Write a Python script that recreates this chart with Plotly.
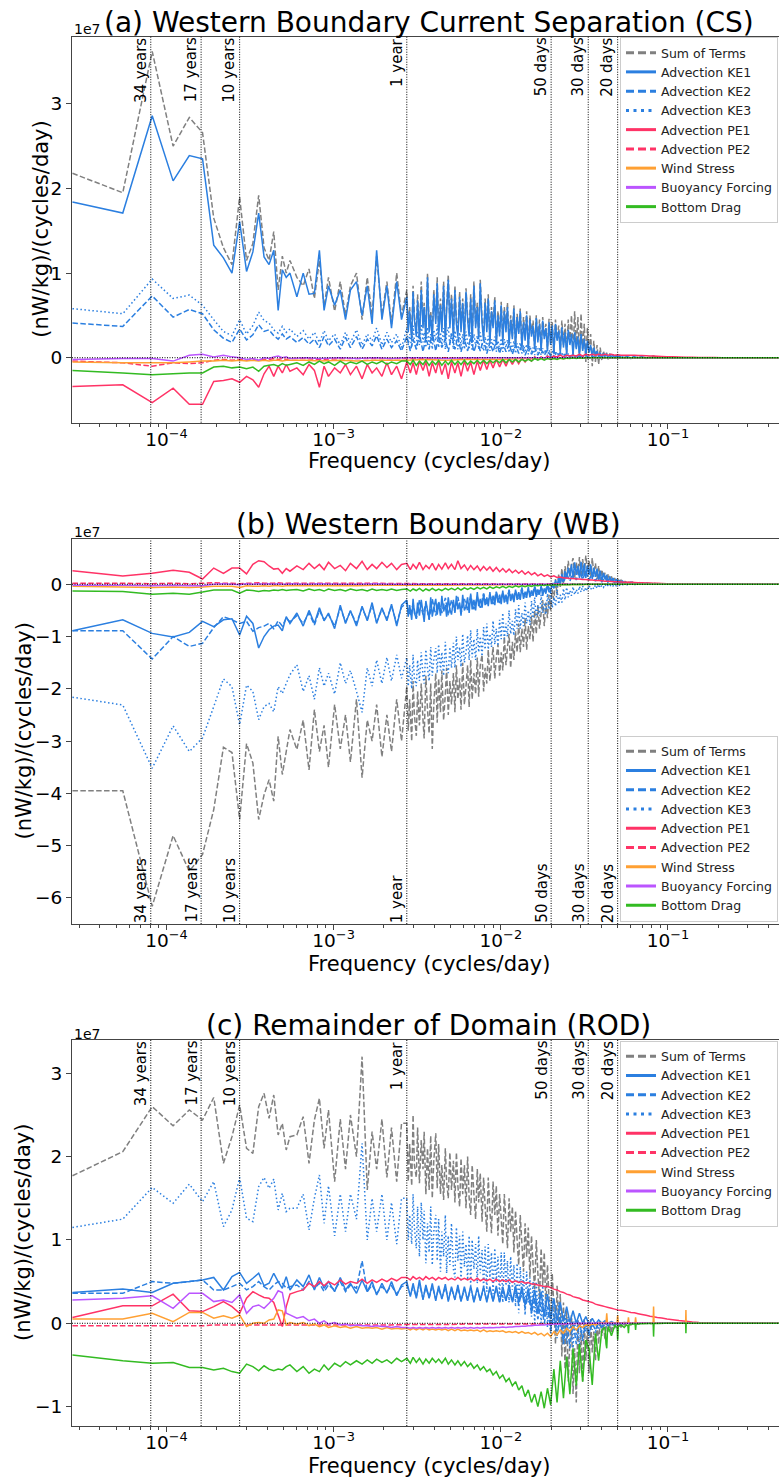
import math
import sys
import plotly.graph_objects as go

# ---------------- data ----------------
RECORD_DAYS = 36500.0  # 100-year record -> frequency = harmonic / RECORD_DAYS (cycles/day)

K = [1, 2, 3, 4, 5, 6, 7, 8, 9, 10, 11, 12, 13, 14, 15, 16, 17, 18, 19, 20,
     22, 24, 26, 28, 30, 32, 34, 37, 40, 43, 46, 50, 54, 58, 62, 66, 71, 76, 81, 87, 93,
     100, 105, 109, 114, 119, 125, 130, 136, 142, 149,
     155, 162, 170, 177, 185, 194, 202, 211, 221, 231,
     241, 252, 264, 275, 288, 301, 314, 328, 343, 359,
     375, 392, 409, 428, 447, 467, 488, 510, 533, 557,
     582, 608, 636, 664, 694, 725, 758, 792, 828, 865,
     904, 945, 987, 1032, 1078, 1127, 1177, 1230, 1286, 1344,
     1404, 1467, 1533, 1602, 1675, 1750, 1829, 1911, 1997,
     2090, 2190, 2300, 2420, 2550, 2700, 2850, 2990, 3150, 3350,
     3600, 3900, 4250, 4670, 5100, 5600, 6200, 6900, 7700, 8600,
     9600, 10800, 12200, 13800, 15600, 18000]

# denser harmonic list (100..1997) for the broadest noisy bands
K_DENSE_MID = [100, 102, 104, 107, 109, 111, 114, 116, 119, 122,
               125, 127, 130, 133, 136, 139, 142, 145, 149, 152,
               155, 159, 162, 166, 170, 173, 177, 181, 185, 190,
               194, 198, 202, 207, 211, 216, 221, 226, 231, 236,
               241, 246, 252, 258, 264, 269, 275, 282, 288, 294,
               301, 307, 314, 321, 328, 336, 343, 351, 359, 367,
               375, 383, 392, 400, 409, 418, 428, 437, 447, 457,
               467, 477, 488, 499, 510, 521, 533, 545, 557, 569,
               582, 595, 608, 622, 636, 650, 664, 679, 694, 709,
               725, 741, 758, 775, 792, 810, 828, 846, 865, 884,
               904, 924, 945, 966, 987, 1009, 1032, 1055, 1078, 1102,
               1127, 1152, 1177, 1203, 1230, 1258, 1286, 1314, 1344, 1374,
               1404, 1435, 1467, 1500, 1533, 1567, 1602, 1638, 1675, 1712,
               1750, 1789, 1829, 1869, 1911, 1953, 1997]
K_D = K[:41] + K_DENSE_MID + K[110:]

# harmonics for the series with narrow high-frequency spikes (panel c wind stress / bottom drag)
K_SPIKY = K[:103] + [1533, 1555, 1570, 1585, 1602, 1675, 1750, 1810, 1825, 1840,
                     1911, 1997, 2060, 2100, 2117, 2134, 2200, 2320, 2336, 2352,
                     2450, 2600, 2800, 2975, 2993, 3011, 3200, 3500, 3900, 4300,
                     4655, 4672, 4689, 5100, 5600, 6200, 6900, 7700, 8600, 9600,
                     10800, 12200, 13800, 15600, 18000]

K_S = [1, 2, 3, 4, 5, 6, 7, 8, 9, 10, 11, 12, 13, 14, 15, 16, 17, 18, 19, 20,
       25, 30, 40, 50, 65, 80, 100, 130, 170, 220, 290, 380, 500, 650, 850,
       1100, 1450, 1900, 2500, 3300, 4400, 6000, 8000, 11000, 18000]

# ---- panel (a): values in units of 1e7 (nW/kg)/(cycles/day)
a_sum = [2.18, 1.95, 3.62, 2.50, 2.84, 2.66, 1.65, 1.30, 1.10, 1.90, 1.15, 1.35, 1.92, 1.30, 1.15, 1.49, 0.80, 1.20, 1.00, 1.15,
         0.95, 0.85, 1.05, 0.70, 1.15, 0.60, 0.95, 0.55, 0.90, 0.50, 0.85, 1.00, 0.45, 0.95, 0.50, 1.20, 0.50, 0.90, 0.40, 1.00, 0.50,
         0.80, 0.35, 0.60, 0.25, 0.85, 0.50, 0.30, 0.75, 0.25, 0.90,
         0.40, 0.65, 0.25, 1.00, 0.35, 0.55, 0.25, 0.80, 0.45, 0.95,
         0.30, 0.70, 0.35, 0.90, 0.25, 0.60, 0.98, 0.40, 0.75, 0.28,
         0.85, 0.45, 0.30, 0.78, 0.35, 0.70, 0.25, 0.82, 0.50, 0.30,
         0.75, 0.22, 0.90, 0.40, 0.65, 0.25, 0.92, 0.45, 0.25, 0.70,
         0.35, 0.75, 0.20, 0.60, 0.40, 0.72, 0.18, 0.55, 0.30, 0.66,
         0.22, 0.60, 0.35, 0.65, 0.18, 0.50, 0.25, 0.62, 0.15, 0.52,
         0.30, 0.58, 0.15, 0.48, 0.25, 0.55, 0.12, 0.50, 0.28, 0.44,
         0.12, 0.50, 0.20, 0.45, 0.10, 0.48, 0.25, 0.40, 0.10, 0.46,
         0.18, 0.42, 0.05, 0.45, 0.22, 0.38, 0.08, 0.44, 0.15, 0.40,
         0.05, 0.45, 0.18, 0.50, 0.02, 0.55, 0.12, 0.48, 0.00, 0.52,
         0.10, 0.40, -0.05, 0.35, 0.05, 0.28, -0.10, 0.20, -0.05, 0.15,
         -0.08, 0.12, -0.03, 0.08, 0.00, 0.06, -0.02, 0.05, 0.00, 0.04,
         -0.01, 0.03, 0.00, 0.03, -0.01, 0.02, 0.00,
         0.02, -0.01, 0.02, 0.00, 0.01, -0.01, 0.01, 0.02, 0.00, 0.01,
         0.00, 0.005, 0, 0, 0, 0, 0, 0, 0, 0,
         0, 0, 0, 0, 0, 0]
a_ke1 = [1.84, 1.71, 2.86, 2.09, 2.39, 2.35, 1.33, 1.18, 1.00, 1.61, 1.02, 1.25, 1.71, 1.19, 1.10, 1.27, 0.56, 1.04, 0.95, 1.00,
         0.72, 1.00, 0.75, 0.76, 1.27, 0.56, 0.85, 0.62, 0.80, 0.45, 0.80, 0.90, 0.50, 0.85, 0.40, 1.27, 0.45, 0.85, 0.35, 0.90, 0.45,
         0.72, 0.30, 0.55, 0.20, 0.78, 0.45, 0.25, 0.68, 0.22, 0.80,
         0.35, 0.60, 0.22, 0.95, 0.30, 0.50, 0.20, 0.75, 0.40, 0.88,
         0.25, 0.62, 0.30, 0.85, 0.20, 0.55, 0.92, 0.35, 0.70, 0.22,
         0.80, 0.40, 0.25, 0.72, 0.30, 0.65, 0.20, 0.78, 0.45, 0.25,
         0.70, 0.18, 0.85, 0.35, 0.60, 0.22, 0.88, 0.40, 0.20, 0.65,
         0.30, 0.70, 0.18, 0.55, 0.35, 0.68, 0.15, 0.50, 0.25, 0.62,
         0.18, 0.55, 0.30, 0.60, 0.15, 0.45, 0.22, 0.58, 0.12, 0.48,
         0.28, 0.55, 0.12, 0.42, 0.20, 0.50, 0.10, 0.45, 0.25, 0.38,
         0.10, 0.47, 0.18, 0.40, 0.08, 0.44, 0.22, 0.35, 0.08, 0.42,
         0.15, 0.38, 0.05, 0.40, 0.20, 0.32, 0.06, 0.36, 0.12, 0.30,
         0.04, 0.33, 0.15, 0.28, 0.03, 0.30, 0.10, 0.25, 0.02, 0.28,
         0.08, 0.22, 0.02, 0.20, 0.06, 0.15, 0.01, 0.12, 0.04, 0.08,
         0.01, 0.06, 0.00, 0.05, 0.02, 0.04, 0.00, 0.03, 0.01, 0.03,
         0.00, 0.02, 0.01, 0.02, 0.00, 0.01, 0.00,
         0.01, 0, 0.01, 0, 0.01, 0, 0.005, 0, 0, 0,
         0, 0, 0, 0, 0, 0, 0, 0, 0, 0,
         0, 0, 0, 0, 0, 0]
a_ke2 = [0.41, 0.37, 0.73, 0.48, 0.57, 0.52, 0.33, 0.23, 0.18, 0.34, 0.21, 0.27, 0.39, 0.31, 0.33, 0.26, 0.22, 0.28, 0.22, 0.25,
         0.18, 0.24, 0.16, 0.22, 0.12, 0.25, 0.14, 0.22, 0.10, 0.24, 0.12, 0.25, 0.10, 0.22, 0.14, 0.26, 0.10, 0.22, 0.12, 0.20, 0.08,
         0.25, 0.08, 0.22, 0.10, 0.28, 0.07, 0.24, 0.10, 0.30, 0.08,
         0.26, 0.12, 0.22, 0.07, 0.28, 0.10, 0.25, 0.07, 0.22, 0.08,
         0.24, 0.07, 0.20, 0.08, 0.22, 0.05, 0.18, 0.07, 0.20, 0.05,
         0.18, 0.07, 0.16, 0.04, 0.16, 0.05, 0.15, 0.03, 0.13, 0.04,
         0.12, 0.03, 0.10, 0.03, 0.09, 0.02, 0.07, 0.02, 0.06, 0.01,
         0.05, 0.01, 0.04, 0.00, 0.03, 0.00, 0.03, 0.00, 0.02, 0.00,
         0.01, 0, 0, 0, 0, 0, 0, 0, 0,
         0, 0, 0, 0, 0, 0, 0, 0, 0, 0,
         0, 0, 0, 0, 0, 0, 0, 0, 0, 0,
         0, 0, 0, 0, 0, 0]
a_ke3 = [0.58, 0.52, 0.93, 0.70, 0.74, 0.62, 0.45, 0.31, 0.26, 0.45, 0.28, 0.38, 0.54, 0.44, 0.41, 0.33, 0.29, 0.37, 0.30, 0.34,
         0.25, 0.32, 0.22, 0.30, 0.18, 0.32, 0.20, 0.28, 0.15, 0.30, 0.18, 0.33, 0.15, 0.28, 0.20, 0.35, 0.15, 0.30, 0.18, 0.28, 0.12,
         0.35, 0.15, 0.28, 0.12, 0.38, 0.20, 0.10, 0.32, 0.15, 0.40,
         0.18, 0.30, 0.12, 0.36, 0.15, 0.28, 0.10, 0.33, 0.20, 0.38,
         0.12, 0.30, 0.15, 0.35, 0.10, 0.28, 0.36, 0.15, 0.30, 0.10,
         0.32, 0.18, 0.10, 0.30, 0.14, 0.28, 0.10, 0.31, 0.18, 0.10,
         0.30, 0.08, 0.28, 0.14, 0.26, 0.10, 0.30, 0.15, 0.08, 0.25,
         0.12, 0.26, 0.08, 0.22, 0.14, 0.25, 0.07, 0.20, 0.10, 0.23,
         0.07, 0.22, 0.12, 0.21, 0.06, 0.18, 0.09, 0.20, 0.05, 0.17,
         0.10, 0.18, 0.05, 0.15, 0.08, 0.16, 0.04, 0.14, 0.07, 0.12,
         0.03, 0.14, 0.06, 0.12, 0.03, 0.11, 0.05, 0.10, 0.02, 0.09,
         0.04, 0.08, 0.02, 0.08, 0.03, 0.06, 0.01, 0.06, 0.02, 0.05,
         0.01, 0.05, 0.02, 0.04, 0.00, 0.04, 0.01, 0.03, 0.00, 0.03,
         0.01, 0.02, 0.00, 0.02, 0.00, 0.01, 0.00, 0.01, 0.00, 0.01,
         0.00, 0.01, 0.00, 0.005, 0.00, 0.005, 0.00, 0.00, 0.00, 0.00,
         0, 0, 0, 0, 0, 0, 0,
         0, 0, 0, 0, 0, 0, 0, 0, 0, 0,
         0, 0, 0, 0, 0, 0, 0, 0, 0, 0,
         0, 0, 0, 0, 0, 0]
a_pe1 = [-0.34, -0.32, -0.53, -0.36, -0.55, -0.55, -0.28, -0.27, -0.25, -0.29, -0.22, -0.26, -0.35, -0.19, -0.10, -0.22, -0.10, -0.18, -0.08, -0.16,
         -0.12, -0.20, -0.08, -0.15, -0.35, -0.10, -0.22, -0.12, -0.18, -0.08, -0.20, -0.10, -0.25, -0.08, -0.18, -0.12, -0.22, -0.06, -0.20, -0.10, -0.25,
         -0.05, -0.18, -0.06, -0.20, -0.04, -0.15, -0.05, -0.22, -0.06, -0.18,
         -0.04, -0.20, -0.07, -0.25, -0.05, -0.18, -0.06, -0.22, -0.04, -0.16,
         -0.05, -0.20, -0.04, -0.15, -0.03, -0.14, -0.03, -0.12, -0.02, -0.11,
         -0.02, -0.10, -0.01, -0.08, -0.01, -0.07, 0.00, -0.05, 0.00, -0.04,
         0.01, -0.02, 0.01, -0.01, 0.02, 0.00, 0.02, 0.01, 0.03, 0.01,
         0.03, 0.02, 0.03, 0.02, 0.04, 0.02, 0.04, 0.03, 0.04, 0.03,
         0.04, 0.03, 0.04, 0.03, 0.04, 0.03, 0.035, 0.03, 0.03,
         0.03, 0.03, 0.028, 0.025, 0.025, 0.022, 0.02, 0.02, 0.018, 0.015,
         0.012, 0.01, 0.008, 0.006, 0.005, 0.004, 0.003, 0.002, 0.001, 0.001,
         0, 0, 0, 0, 0, 0]
a_drag = [-0.15, -0.18, -0.20, -0.19, -0.18, -0.18, -0.11, -0.10, -0.12, -0.11, -0.13, -0.11, -0.16, -0.10, -0.09, -0.08, -0.10, -0.07, -0.09, -0.08,
          -0.06, -0.09, -0.05, -0.08, -0.04, -0.07, -0.05, -0.09, -0.04, -0.08, -0.05, -0.07, -0.04, -0.08, -0.05, -0.07, -0.04, -0.08, -0.05, -0.07, -0.04,
          -0.04, -0.08, -0.03, -0.09, -0.04, -0.08, -0.03, -0.09, -0.04, -0.08,
          -0.03, -0.09, -0.04, -0.08, -0.03, -0.08, -0.04, -0.08, -0.03, -0.08,
          -0.04, -0.07, -0.03, -0.07, -0.03, -0.07, -0.03, -0.06, -0.03, -0.06,
          -0.02, -0.06, -0.02, -0.05, -0.02, -0.05, -0.02, -0.04, -0.02, -0.04,
          -0.01, -0.03, -0.01, -0.03, -0.01, -0.02, -0.01, -0.02, -0.005, -0.015,
          -0.005, -0.01, 0.0, -0.01, 0.0, -0.005, 0, 0, 0, 0,
          0, 0, 0, 0, 0, 0, 0, 0, 0,
          0, 0, 0, 0, 0, 0, 0, 0, 0, 0,
          0, 0, 0, 0, 0, 0, 0, 0, 0, 0,
          0, 0, 0, 0, 0, 0]
a_pe2 = [-0.04, -0.06, -0.10, -0.06, -0.07, -0.06, -0.03, -0.02, -0.03, -0.02, -0.03, -0.02, -0.03, -0.02, -0.02, -0.01, -0.02, -0.01, -0.02, -0.01,
         -0.01, -0.02, -0.01, -0.01, -0.01, -0.01, -0.01, -0.01, 0, -0.01, 0, 0, 0, 0, 0, 0, 0, 0, 0, 0, 0, 0, 0, 0, 0]
a_wind = [-0.05, -0.06, -0.06, -0.06, -0.05, -0.04, -0.04, -0.03, -0.04, -0.03, -0.04, -0.03, -0.04, -0.03, -0.04, -0.03, -0.03, -0.04, -0.03, -0.03,
          -0.03, -0.04, -0.03, -0.04, -0.03, -0.03, -0.03, -0.02, -0.03, -0.02, -0.02, -0.02, -0.01, -0.01, -0.01, 0, 0, 0, 0, 0, 0, 0, 0, 0, 0]
a_buoy = [-0.02, -0.01, -0.01, -0.04, 0.03, 0.04, 0.01, 0.03, 0.01, 0.0, -0.02, -0.01, -0.03, 0.0, -0.01, 0.01, 0.02, 0.0, 0.01, -0.01,
          0.0, -0.01, 0.0, -0.01, 0.0, -0.01, 0.0, 0.0, -0.01, 0.0, 0, 0, 0, 0, 0, 0, 0, 0, 0, 0, 0, 0, 0, 0, 0]

# ---- panel (b)
b_sum = [-3.95, -3.95, -6.16, -4.81, -5.49, -5.17, -4.31, -3.12, -3.22, -4.50, -3.05, -3.42, -4.50, -4.03, -3.74, -4.15, -2.91, -3.64, -3.20, -2.78,
         -3.16, -2.60, -3.55, -2.40, -3.20, -2.70, -3.50, -2.30, -3.15, -2.50, -3.40, -2.20, -3.70, -2.60, -3.00, -2.30, -3.30, -2.50, -3.20, -2.20, -3.00,
         -1.95, -2.80, -2.20, -3.00, -1.85, -2.50, -2.90, -2.05, -2.70, -1.90,
         -2.60, -2.95, -1.75, -2.40, -2.85, -1.90, -3.15, -2.30, -1.70, -2.65,
         -1.80, -2.45, -1.65, -2.60, -2.10, -1.60, -2.50, -1.85, -2.30, -1.70,
         -2.45, -1.55, -2.20, -1.80, -2.40, -1.50, -2.30, -1.95, -1.55, -2.35,
         -1.45, -2.20, -1.70, -2.10, -1.40, -2.15, -1.55, -1.35, -2.05, -1.60,
         -1.90, -1.25, -1.85, -1.50, -1.20, -1.80, -1.40, -1.15, -1.75, -1.30,
         -1.65, -1.00, -1.55, -1.20, -0.95, -1.60, -1.10, -1.45, -0.90, -1.30,
         -0.75, -1.30, -0.85, -1.20, -0.65, -1.25, -0.80, -1.05, -0.60, -1.10,
         -0.50, -0.95, -0.40, -0.85, -0.55, -0.30, -0.80, -0.35, -0.65, -0.20,
         -0.50, -0.10, -0.30, 0.10, -0.20, 0.20, -0.05, 0.30, 0.00, 0.35,
         0.10, 0.45, 0.15, 0.38, 0.50, 0.12, 0.42, 0.20, 0.52, 0.15,
         0.48, 0.18, 0.55, 0.25, 0.45, 0.12, 0.50, 0.20, 0.40, 0.10,
         0.35, 0.08, 0.28, 0.12, 0.22, 0.05, 0.20, 0.08, 0.15, 0.05,
         0.12, 0.03, 0.10, 0.04, 0.08, 0.02, 0.06,
         0.03, 0.06, 0.02, 0.04, 0.01, 0.03, 0.01, 0.02, 0.005, 0.01,
         0, 0.005, 0, 0, 0, 0, 0, 0, 0, 0,
         0, 0, 0, 0, 0, 0]
b_ke1 = [-0.89, -0.68, -0.94, -1.01, -0.92, -0.71, -0.81, -0.68, -0.66, -0.97, -0.61, -0.75, -1.22, -1.00, -0.87, -0.80, -0.78, -0.89, -0.62, -0.75,
         -0.55, -0.80, -0.50, -0.75, -0.45, -0.70, -0.55, -0.85, -0.40, -0.75, -0.50, -0.80, -0.42, -0.70, -0.35, -0.75, -0.45, -0.70, -0.38, -0.80, -0.40,
         -0.30, -0.62, -0.40, -0.68, -0.28, -0.55, -0.65, -0.35, -0.60, -0.30,
         -0.55, -0.72, -0.32, -0.50, -0.66, -0.25, -0.62, -0.45, -0.28, -0.58,
         -0.35, -0.60, -0.22, -0.52, -0.40, -0.62, -0.25, -0.48, -0.58, -0.30,
         -0.55, -0.22, -0.48, -0.35, -0.60, -0.20, -0.50, -0.42, -0.25, -0.55,
         -0.18, -0.48, -0.30, -0.50, -0.15, -0.42, -0.28, -0.45, -0.18, -0.40,
         -0.25, -0.42, -0.15, -0.38, -0.22, -0.40, -0.14, -0.35, -0.20, -0.38,
         -0.12, -0.35, -0.20, -0.38, -0.10, -0.32, -0.18, -0.34, -0.10, -0.30,
         -0.15, -0.30, -0.06, -0.28, -0.14, -0.26, -0.05, -0.25, -0.12, -0.22,
         -0.04, -0.24, -0.10, -0.20, -0.03, -0.22, -0.08, -0.18, -0.02, -0.15,
         -0.12, 0.02, -0.08, 0.08, -0.04, 0.12, 0.00, 0.20, 0.05, 0.25,
         0.12, 0.32, 0.15, 0.38, 0.10, 0.42, 0.18, 0.35, 0.12, 0.43,
         0.15, 0.40, 0.12, 0.36, 0.18, 0.38, 0.10, 0.32, 0.14, 0.30,
         0.08, 0.26, 0.05, 0.22, 0.10, 0.18, 0.04, 0.15, 0.06, 0.12,
         0.02, 0.10, 0.03, 0.08, 0.02, 0.06, 0.01,
         0.02, 0.04, 0.01, 0.03, 0.01, 0.02, 0, 0.01, 0, 0.005,
         0, 0, 0, 0, 0, 0, 0, 0, 0, 0,
         0, 0, 0, 0, 0, 0]
b_ke2 = [-0.89, -0.89, -1.43, -1.00, -1.19, -1.13, -0.83, -0.62, -0.68, -0.75, -0.71, -0.90, -0.83, -0.80, -0.75, -0.85, -0.70, -0.80, -0.65, -0.72,
         -0.60, -0.75, -0.55, -0.78, -0.50, -0.68, -0.58, -0.80, -0.45, -0.72, -0.52, -0.75, -0.45, -0.68, -0.40, -0.72, -0.48, -0.66, -0.42, -0.74, -0.44,
         -0.35, -0.60, -0.38, -0.66, -0.30, -0.58, -0.36, -0.68, -0.28, -0.60,
         -0.33, -0.55, -0.26, -0.60, -0.30, -0.52, -0.24, -0.56, -0.28, -0.50,
         -0.22, -0.48, -0.24, -0.45, -0.18, -0.40, -0.20, -0.38, -0.15, -0.36,
         -0.16, -0.33, -0.12, -0.30, -0.13, -0.28, -0.08, -0.25, -0.09, -0.23,
         -0.05, -0.20, -0.06, -0.16, -0.02, -0.12, 0.05, -0.04, 0.15, 0.03,
         0.20, 0.06, 0.24, 0.08, 0.26, 0.09, 0.25, 0.08, 0.22, 0.06,
         0.18, 0.04, 0.13, 0.03, 0.09, 0.02, 0.06, 0.01, 0.04,
         0.01, 0.02, 0.01, 0.01, 0.005, 0.01, 0, 0, 0, 0,
         0, 0, 0, 0, 0, 0, 0, 0, 0, 0,
         0, 0, 0, 0, 0, 0]
b_ke3 = [-2.16, -2.31, -3.52, -2.71, -3.20, -2.94, -2.34, -1.81, -1.96, -2.69, -1.93, -2.05, -2.59, -2.34, -2.28, -2.44, -1.96, -2.09, -1.90, -1.73,
         -1.54, -2.05, -1.75, -2.20, -1.60, -1.95, -1.70, -2.10, -1.50, -1.90, -1.65, -2.05, -2.45, -1.60, -1.95, -1.45, -1.90, -1.40, -1.85, -1.35, -1.80,
         -1.40, -1.95, -1.55, -2.00, -1.35, -1.80, -1.95, -1.45, -1.85, -1.30,
         -1.75, -1.90, -1.25, -1.60, -1.85, -1.20, -1.75, -1.45, -1.22, -1.70,
         -1.15, -1.65, -1.30, -1.75, -1.10, -1.55, -1.70, -1.20, -1.60, -1.12,
         -1.60, -1.00, -1.45, -1.20, -1.58, -0.95, -1.50, -1.30, -0.98, -1.45,
         -0.88, -1.40, -1.05, -1.45, -0.85, -1.30, -1.00, -1.38, -0.82, -1.25,
         -0.75, -1.25, -0.95, -1.20, -0.70, -1.15, -0.85, -1.18, -0.68, -1.05,
         -0.55, -1.05, -0.75, -1.00, -0.50, -0.95, -0.70, -0.98, -0.48, -0.85,
         -0.40, -0.85, -0.55, -0.80, -0.35, -0.75, -0.50, -0.78, -0.32, -0.65,
         -0.25, -0.65, -0.40, -0.60, -0.20, -0.55, -0.35, -0.58, -0.18, -0.48,
         -0.12, -0.45, -0.25, -0.42, -0.10, -0.38, -0.20, -0.35, -0.08, -0.30,
         -0.06, -0.25, -0.12, -0.22, -0.05, -0.20, -0.10, -0.18, -0.04, -0.15,
         -0.03, -0.14, -0.06, -0.12, -0.02, -0.10, -0.05, -0.09, -0.01, -0.08,
         0.00, -0.07, -0.02, -0.06, 0.00, -0.05, -0.01, -0.04, 0.00, -0.03,
         0.00, -0.03, -0.01, -0.02, 0.00, -0.01, 0.00,
         -0.01, 0, -0.005, 0, 0, 0, 0, 0, 0, 0,
         0, 0, 0, 0, 0, 0, 0, 0, 0, 0,
         0, 0, 0, 0, 0, 0]
b_pe1 = [0.26, 0.16, 0.21, 0.27, 0.23, 0.10, 0.31, 0.21, 0.31, 0.31, 0.20, 0.38, 0.45, 0.43, 0.35, 0.29, 0.30, 0.21, 0.30, 0.25,
         0.35, 0.28, 0.40, 0.30, 0.38, 0.28, 0.42, 0.30, 0.36, 0.26, 0.40, 0.30, 0.44, 0.28, 0.38, 0.30, 0.42, 0.32, 0.40, 0.28, 0.38,
         0.40, 0.28, 0.38, 0.30, 0.42, 0.28, 0.36, 0.30, 0.40, 0.27,
         0.38, 0.29, 0.41, 0.30, 0.38, 0.28, 0.45, 0.30, 0.37, 0.27,
         0.36, 0.28, 0.35, 0.26, 0.34, 0.27, 0.33, 0.25, 0.32, 0.24,
         0.30, 0.23, 0.29, 0.22, 0.27, 0.21, 0.26, 0.19, 0.24, 0.18,
         0.22, 0.16, 0.20, 0.15, 0.18, 0.14, 0.16, 0.13, 0.14, 0.12,
         0.12, 0.11, 0.11, 0.10, 0.10, 0.09, 0.09, 0.08, 0.08, 0.07,
         0.07, 0.065, 0.06, 0.06, 0.055, 0.05, 0.05, 0.045, 0.04,
         0.04, 0.037, 0.034, 0.031, 0.028, 0.025, 0.022, 0.02, 0.018, 0.015,
         0.012, 0.01, 0.008, 0.006, 0.004, 0.003, 0.002, 0.001, 0.001, 0,
         0, 0, 0, 0, 0, 0]
b_drag = [-0.13, -0.14, -0.19, -0.17, -0.19, -0.15, -0.11, -0.11, -0.11, -0.17, -0.11, -0.12, -0.14, -0.12, -0.13, -0.11, -0.12, -0.10, -0.12, -0.11,
          -0.10, -0.13, -0.09, -0.12, -0.10, -0.13, -0.09, -0.12, -0.10, -0.13, -0.09, -0.12, -0.10, -0.13, -0.09, -0.12, -0.10, -0.12, -0.09, -0.12, -0.10,
          -0.09, -0.13, -0.09, -0.12, -0.08, -0.13, -0.09, -0.12, -0.08, -0.12,
          -0.09, -0.12, -0.08, -0.11, -0.08, -0.11, -0.07, -0.11, -0.07, -0.10,
          -0.07, -0.10, -0.06, -0.09, -0.06, -0.09, -0.05, -0.08, -0.05, -0.07,
          -0.04, -0.07, -0.04, -0.06, -0.03, -0.05, -0.03, -0.045, -0.025, -0.04,
          -0.02, -0.03, -0.015, -0.025, -0.01, -0.02, -0.01, -0.015, -0.005, -0.01,
          -0.005, -0.008, 0, -0.005, 0, -0.003, 0, 0, 0, 0,
          0, 0, 0, 0, 0, 0, 0, 0, 0,
          0, 0, 0, 0, 0, 0, 0, 0, 0, 0,
          0, 0, 0, 0, 0, 0, 0, 0, 0, 0,
          0, 0, 0, 0, 0, 0]
b_pe2 = [0.02, 0.02, 0.01, 0.02, 0.01, 0.02, 0.03, 0.02, 0.02, 0.01, 0.02, 0.02, 0.03, 0.02, 0.02, 0.02, 0.03, 0.02, 0.02, 0.02,
         0.02, 0.02, 0.02, 0.02, 0.02, 0.015, 0.015, 0.01, 0.01, 0.01, 0.01, 0.005, 0.005, 0.005, 0.003, 0.002, 0, 0, 0, 0, 0, 0, 0, 0, 0]
b_wind = [-0.04, -0.05, -0.06, -0.05, -0.06, -0.05, -0.04, -0.04, -0.04, -0.06, -0.03, -0.04, -0.04, -0.03, -0.04, -0.03, -0.03, -0.04, -0.03, -0.03,
          -0.03, -0.03, -0.03, -0.03, -0.02, -0.02, -0.02, -0.02, -0.02, -0.015, -0.015, -0.01, -0.01, -0.01, -0.005, -0.005, 0, 0, 0, 0, 0, 0, 0, 0, 0]
b_buoy = [-0.02, -0.02, -0.03, -0.02, -0.03, -0.03, 0.0, 0.01, 0.0, -0.01, 0.01, 0.0, 0.01, 0.0, 0.01, 0.0, 0.01, 0.0, 0.0, 0.01,
          0.0, 0.01, 0.0, 0.0, 0.01, 0.0, 0.0, 0.0, 0.0, 0.0, 0, 0, 0, 0, 0, 0, 0, 0, 0, 0, 0, 0, 0, 0, 0]

# ---- panel (c)
c_sum = [1.77, 2.06, 2.60, 2.37, 2.56, 2.44, 2.71, 1.92, 2.24, 2.62, 2.10, 2.04, 2.60, 2.76, 2.46, 2.74, 2.26, 2.40, 2.08, 2.24,
         2.26, 2.48, 1.92, 2.44, 2.70, 2.10, 2.56, 1.70, 2.45, 1.85, 2.50, 2.00, 3.20, 1.60, 2.30, 1.85, 2.45, 1.75, 2.35, 1.70, 2.40,
         2.40, 1.70, 2.15, 1.65, 2.50, 1.90, 1.75, 2.35, 1.68, 2.20,
         1.85, 2.30, 1.55, 2.10, 1.60, 2.25, 1.50, 1.95, 2.28, 1.62,
         2.15, 1.55, 1.90, 1.48, 2.10, 1.70, 1.50, 2.05, 1.60, 1.95,
         1.45, 2.05, 1.65, 1.40, 1.98, 1.55, 1.90, 1.38, 2.00, 1.50,
         1.30, 1.90, 1.55, 1.25, 1.85, 1.45, 1.80, 1.22, 1.75, 1.40,
         1.10, 1.75, 1.35, 1.08, 1.70, 1.30, 1.65, 1.05, 1.55, 1.25,
         0.95, 1.55, 1.20, 0.90, 1.50, 1.10, 1.40, 0.85, 1.35, 1.00,
         0.70, 1.30, 0.95, 0.62, 1.20, 0.80, 1.15, 0.55, 1.05, 0.70,
         0.40, 1.00, 0.60, 0.30, 0.90, 0.45, 0.85, 0.20, 0.70, 0.30,
         -0.10, 0.60, 0.20, -0.25, 0.45, 0.00, 0.35, -0.40, 0.25, -0.55,
         0.15, -0.70, -0.20, 0.10, -0.85, -0.30, -0.95, 0.05, -0.60, -0.10,
         -0.70, 0.05, -0.45, -0.05, -0.60, 0.05, -0.35, -0.10, -0.45, 0.02,
         -0.25, 0.03, -0.15, -0.02, -0.20, 0.02, -0.10, 0.00, -0.12, 0.01,
         -0.06, 0.01, -0.04, 0.00, -0.05, 0.01, -0.02,
         0.0, -0.02, 0.01, -0.01, 0, 0, -0.005, 0, 0, 0,
         0, 0, 0, 0, 0, 0, 0, 0, 0, 0,
         0, 0, 0, 0, 0, 0]
c_ke1 = [0.37, 0.41, 0.37, 0.48, 0.50, 0.52, 0.55, 0.40, 0.56, 0.61, 0.48, 0.54, 0.60, 0.45, 0.48, 0.60, 0.50, 0.42, 0.56, 0.40,
         0.52, 0.44, 0.58, 0.40, 0.55, 0.42, 0.50, 0.38, 0.55, 0.40, 0.48, 0.36, 0.52, 0.38, 0.50, 0.34, 0.48, 0.36, 0.50, 0.33, 0.46,
         0.50, 0.32, 0.48, 0.30, 0.52, 0.28, 0.46, 0.30, 0.48, 0.27,
         0.45, 0.29, 0.47, 0.26, 0.44, 0.28, 0.46, 0.26, 0.44, 0.27,
         0.45, 0.25, 0.43, 0.27, 0.44, 0.25, 0.44, 0.26, 0.45, 0.25,
         0.44, 0.27, 0.46, 0.26, 0.45, 0.25, 0.44, 0.22, 0.42, 0.18,
         0.40, 0.12, 0.38, 0.08, 0.35, 0.05, 0.30, 0.03, 0.25, 0.02,
         0.20, 0.01, 0.15, 0.00, 0.12, 0.00, 0.08, -0.01, 0.06, -0.01,
         0.04, 0.00, 0.03, 0.00, 0.02, 0.00, 0.01, 0.00, 0.01,
         0.005, 0, 0, 0, 0, 0, 0, 0, 0, 0,
         0, 0, 0, 0, 0, 0, 0, 0, 0, 0,
         0, 0, 0, 0, 0, 0]
c_ke2 = [0.36, 0.36, 0.50, 0.48, 0.50, 0.52, 0.40, 0.40, 0.44, 0.48, 0.40, 0.44, 0.50, 0.44, 0.40, 0.46, 0.50, 0.48, 0.42, 0.44,
         0.46, 0.40, 0.50, 0.42, 0.48, 0.38, 0.46, 0.40, 0.50, 0.38, 0.46, 0.42, 0.75, 0.38, 0.46, 0.36, 0.44, 0.38, 0.45, 0.35, 0.44,
         0.46, 0.34, 0.44, 0.32, 0.47, 0.30, 0.43, 0.31, 0.45, 0.29,
         0.42, 0.30, 0.44, 0.28, 0.42, 0.29, 0.43, 0.27, 0.41, 0.28,
         0.42, 0.27, 0.41, 0.28, 0.42, 0.27, 0.41, 0.27, 0.42, 0.26,
         0.41, 0.27, 0.42, 0.25, 0.40, 0.22, 0.38, 0.18, 0.35, 0.12,
         0.30, 0.05, 0.25, 0.00, 0.20, -0.08, 0.12, -0.15, 0.08, -0.25,
         0.05, -0.30, 0.02, -0.25, 0.01, -0.18, 0.00, -0.12, 0.00, -0.08,
         0.00, -0.05, 0.00, -0.03, 0.00, -0.02, 0.00, -0.01, 0.00,
         0, 0, 0, 0, 0, 0, 0, 0, 0, 0,
         0, 0, 0, 0, 0, 0, 0, 0, 0, 0,
         0, 0, 0, 0, 0, 0]
c_ke3 = [1.15, 1.25, 1.63, 1.44, 1.67, 1.46, 1.70, 1.16, 1.36, 1.75, 1.26, 1.22, 1.64, 1.75, 1.62, 1.73, 1.36, 1.56, 1.34, 1.38,
         1.38, 1.55, 1.12, 1.50, 1.78, 1.20, 1.65, 1.05, 1.55, 1.10, 1.55, 1.25, 2.16, 1.00, 1.50, 1.10, 1.55, 1.00, 1.45, 0.95, 1.50,
         1.50, 1.00, 1.30, 0.95, 1.55, 1.15, 0.90, 1.40, 0.80, 1.45,
         1.00, 1.35, 0.72, 1.20, 0.85, 1.40, 0.70, 1.10, 1.30, 0.75,
         1.25, 0.62, 1.10, 0.80, 1.30, 0.60, 1.05, 0.70, 1.20, 0.65,
         0.55, 1.15, 0.75, 1.05, 0.50, 1.10, 0.68, 0.95, 0.52, 1.05,
         0.45, 1.00, 0.65, 0.95, 0.48, 1.05, 0.60, 0.88, 0.42, 0.92,
         0.38, 0.95, 0.55, 0.85, 0.35, 0.90, 0.50, 0.80, 0.32, 0.85,
         0.25, 0.85, 0.45, 0.75, 0.25, 0.80, 0.40, 0.70, 0.20, 0.72,
         0.12, 0.68, 0.30, 0.60, 0.10, 0.62, 0.25, 0.55, 0.08, 0.50,
         0.00, 0.50, 0.15, 0.42, -0.02, 0.45, 0.10, 0.35, -0.05, 0.32,
         -0.12, 0.30, 0.00, 0.22, -0.18, 0.25, -0.05, 0.15, -0.22, 0.10,
         -0.25, 0.08, -0.10, 0.05, -0.30, 0.02, -0.15, 0.04, -0.28, 0.00,
         -0.22, 0.02, -0.10, 0.00, -0.18, 0.01, -0.08, 0.00, -0.12, 0.00,
         -0.08, 0.00, -0.05, 0.00, -0.06, 0.00, -0.03, 0.00, -0.04, 0.00,
         -0.02, 0.00, -0.01, 0.00, -0.01, 0.00, 0.00,
         0, 0, 0, 0, 0, 0, 0, 0, 0, 0,
         0, 0, 0, 0, 0, 0, 0, 0, 0, 0,
         0, 0, 0, 0, 0, 0]
c_pe1 = [0.07, 0.21, 0.21, 0.35, 0.15, 0.14, 0.20, 0.26, 0.20, 0.12, 0.30, 0.38, 0.34, 0.31, 0.30, 0.25, 0.10, -0.04, 0.20, 0.35,
         0.38, 0.40, 0.48, 0.44, 0.50, 0.45, 0.50, 0.46, 0.52, 0.47, 0.50, 0.48, 0.53, 0.48, 0.52, 0.49, 0.53, 0.50, 0.54, 0.51, 0.55,
         0.55, 0.52, 0.56, 0.53, 0.55, 0.52, 0.56, 0.53, 0.55, 0.52,
         0.55, 0.53, 0.55, 0.52, 0.54, 0.52, 0.55, 0.52, 0.54, 0.52,
         0.54, 0.51, 0.54, 0.51, 0.53, 0.51, 0.53, 0.50, 0.53, 0.50,
         0.52, 0.50, 0.52, 0.49, 0.51, 0.49, 0.50, 0.48, 0.49, 0.47,
         0.47, 0.46, 0.45, 0.44, 0.44, 0.43, 0.41, 0.40, 0.38, 0.37,
         0.35, 0.34, 0.32, 0.31, 0.30, 0.28, 0.27, 0.26, 0.25, 0.23,
         0.22, 0.21, 0.20, 0.19, 0.18, 0.17, 0.16, 0.155, 0.15,
         0.14, 0.13, 0.125, 0.115, 0.105, 0.095, 0.085, 0.078, 0.07, 0.062,
         0.052, 0.043, 0.033, 0.024, 0.016, 0.01, 0.006, 0.003, 0.001, 0,
         0, 0, 0, 0, 0, 0]
c_wind = [0.05, 0.05, 0.12, 0.02, 0.13, 0.13, 0.06, 0.09, 0.06, 0.10, -0.04, 0.00, 0.01, 0.00, 0.04, 0.05, 0.16, 0.15, -0.02, 0.01,
          -0.01, 0.01, -0.03, -0.01, -0.04, -0.02, -0.05, -0.03, -0.05, -0.04, -0.06, -0.04, -0.06, -0.05, -0.06, -0.05, -0.07, -0.05, -0.07, -0.06, -0.07,
          -0.06, -0.08, -0.06, -0.08, -0.06, -0.08, -0.06, -0.08, -0.07, -0.08,
          -0.07, -0.08, -0.07, -0.09, -0.07, -0.09, -0.07, -0.09, -0.08, -0.09,
          -0.08, -0.09, -0.08, -0.10, -0.08, -0.10, -0.09, -0.10, -0.09, -0.10,
          -0.09, -0.11, -0.10, -0.11, -0.10, -0.12, -0.10, -0.12, -0.11, -0.13,
          -0.11, -0.14, -0.12, -0.15, -0.12, -0.16, -0.10, -0.14, -0.08, -0.12,
          -0.06, -0.10, -0.04, -0.08, -0.03, -0.05, -0.02, -0.03, -0.01, -0.02,
          0.00, 0.01,
          0.00, 0.01, 0.12, 0.01, 0.00, 0.01, 0.00, 0.01, 0.10, 0.01,
          0.00, 0.01, 0.00, 0.01, 0.07, 0.01, 0.00, 0.01, 0.07, 0.01,
          0.00, 0.00, 0.00, 0.01, 0.20, 0.01, 0.00, 0.00, 0.00, 0.00,
          0.00, 0.16, 0.00, 0, 0, 0, 0, 0, 0, 0,
          0, 0, 0, 0, 0]
c_buoy = [0.28, 0.30, 0.33, 0.18, 0.36, 0.36, 0.26, 0.28, 0.25, 0.34, 0.12, 0.20, 0.22, 0.18, 0.24, 0.30, 0.39, 0.37, 0.12, 0.10,
          0.06, 0.08, 0.03, 0.05, 0.00, 0.03, -0.01, 0.01, -0.02, -0.01, -0.03, -0.02, -0.03, -0.03, -0.04, -0.03, -0.04, -0.04, -0.05, -0.04, -0.05,
          -0.05, -0.06, -0.05, -0.06, -0.05, -0.06, -0.05, -0.06, -0.05, -0.06,
          -0.05, -0.06, -0.05, -0.06, -0.05, -0.06, -0.05, -0.06, -0.05, -0.06,
          -0.05, -0.06, -0.05, -0.06, -0.05, -0.055, -0.05, -0.055, -0.05, -0.05,
          -0.045, -0.05, -0.045, -0.045, -0.04, -0.04, -0.035, -0.035, -0.03, -0.03,
          -0.025, -0.025, -0.02, -0.02, -0.015, -0.015, -0.01, -0.01, -0.008, -0.006,
          -0.005, -0.004, -0.003, -0.002, -0.001, 0, 0, 0, 0, 0,
          0, 0, 0, 0, 0, 0, 0, 0, 0,
          0, 0, 0, 0, 0, 0, 0, 0, 0, 0,
          0, 0, 0, 0, 0, 0, 0, 0, 0, 0,
          0, 0, 0, 0, 0, 0]
c_drag = [-0.38, -0.45, -0.48, -0.47, -0.53, -0.53, -0.56, -0.54, -0.58, -0.60, -0.49, -0.52, -0.57, -0.51, -0.55, -0.57, -0.55, -0.56, -0.52, -0.50,
          -0.58, -0.52, -0.60, -0.55, -0.58, -0.50, -0.56, -0.48, -0.52, -0.46, -0.50, -0.45, -0.49, -0.44, -0.48, -0.43, -0.47, -0.44, -0.48, -0.42, -0.46,
          -0.42, -0.48, -0.41, -0.47, -0.42, -0.49, -0.43, -0.48, -0.42, -0.47,
          -0.43, -0.48, -0.42, -0.49, -0.44, -0.50, -0.45, -0.51, -0.46, -0.52,
          -0.48, -0.54, -0.50, -0.56, -0.52, -0.58, -0.55, -0.62, -0.58, -0.66,
          -0.62, -0.70, -0.66, -0.75, -0.70, -0.80, -0.75, -0.88, -0.80, -0.95,
          -0.85, -1.00, -0.82, -1.02, -0.78, -0.98, -0.55, -0.95, -0.45, -0.90,
          -0.40, -0.85, -0.30, -0.75, -0.25, -0.70, -0.20, -0.30, -0.74, -0.12,
          -0.45, -0.08,
          -0.05, -0.25, -0.30, -0.10, -0.04, -0.15, -0.03, -0.05, -0.20, -0.04,
          -0.02, -0.05, -0.02, -0.03, -0.12, -0.02, -0.01, -0.01, -0.08, -0.01,
          -0.005, -0.005, -0.003, -0.003, -0.16, -0.002, -0.002, -0.001, -0.001, 0,
          0, -0.12, 0, 0, 0, 0, 0, 0, 0, 0,
          0, 0, 0, 0, 0]
c_pe2 = [-0.03, -0.03, -0.03, -0.03, -0.03, -0.03, -0.02, -0.02, -0.02, -0.02, -0.02, -0.02, -0.02, -0.02, -0.02, -0.02, -0.02, -0.02, -0.02, -0.02,
         -0.02, -0.02, -0.02, -0.02, -0.02, -0.02, -0.015, -0.015, -0.015, -0.01, -0.01, -0.01, -0.01, -0.01, -0.005, -0.005, -0.003, -0.002, 0, 0, 0, 0, 0, 0, 0]

SERIES_NAMES = ["Sum of Terms", "Advection KE1", "Advection KE2", "Advection KE3", "Advection PE1",
                "Advection PE2", "Wind Stress", "Buoyancy Forcing", "Bottom Drag"]

PERIOD_LABELS = ["34 years", "17 years", "10 years", "1 year", "50 days", "30 days", "20 days"]
PERIOD_DAYS = [34 * 365, 17 * 365, 10 * 365, 365, 50, 30, 20]

TITLES = ["(a) Western Boundary Current Separation (CS)",
          "(b) Western Boundary (WB)",
          "(c) Remainder of Domain (ROD)"]

# ---------------- style ----------------
FONT = "DejaVu Sans"
GREY = "#808080"
BLUE = "#2B7FE0"
RED = "#FF3366"
ORANGE = "#FFA033"
PURPLE = "#BB55FF"
GREEN = "#33BB22"
STYLE = [  # colour, plot dash, legend dash
    (GREY, "5.5px,2.4px", "8px,4px"),
    (BLUE, "solid", "solid"),
    (BLUE, "5.5px,2.4px", "8px,4px"),
    (BLUE, "1.5px,2.5px", "3px,4.5px"),
    (RED, "solid", "solid"),
    (RED, "5.5px,2.4px", "8px,4px"),
    (ORANGE, "solid", "solid"),
    (PURPLE, "solid", "solid"),
    (GREEN, "solid", "solid"),
]

W, H = 779, 1479
ML = 72
PW = W - ML


def px_x(px):
    return (px - ML) / PW


def px_y(py):
    return 1 - py / H


def to_freq(ks):
    return [k / RECORD_DAYS for k in ks]


panels = [
    dict(series=[a_sum, a_ke1, a_ke2, a_ke3, a_pe1, a_pe2, a_wind, a_buoy, a_drag],
         grids=[K_D, K_D, K, K_D, K, K_S, K_S, K_S, K],
         top=36.7, bot=422.7, yr=[-0.768, 3.794], ticks=[0, 1, 2, 3],
         lab="top", title_y=22, off_y=29, xlab_y=461, leg_top=37, ylab_x=41),
    dict(series=[b_sum, b_ke1, b_ke2, b_ke3, b_pe1, b_pe2, b_wind, b_buoy, b_drag],
         grids=[K_D, K_D, K, K_D, K, K_S, K_S, K_S, K],
         top=539, bot=924, yr=[-6.50, 0.866], ticks=[-6, -5, -4, -3, -2, -1, 0],
         lab="bottom", title_y=524, off_y=532, xlab_y=964, leg_top=735.7, ylab_x=23),
    dict(series=[c_sum, c_ke1, c_ke2, c_ke3, c_pe1, c_pe2, c_wind, c_buoy, c_drag],
         grids=[K_D, K, K, K_D, K, K_S, K_SPIKY, K, K_SPIKY],
         top=1040, bot=1426, yr=[-1.233, 3.40], ticks=[-1, 0, 1, 2, 3],
         lab="top", title_y=1025.5, off_y=1034, xlab_y=1466, leg_top=1040.7, ylab_x=23),
]

XR = [-4.565, -0.336]
minor_x = [m * 10.0 ** e for e in range(-5, 0) for m in range(2, 10)]
minor_x = [v for v in minor_x if 10 ** XR[0] < v < 10 ** XR[1]]

fig = go.Figure()
annotations = []
shapes = []
layout = {}

for i, p in enumerate(panels):
    n = "" if i == 0 else str(i + 1)
    xa, ya = "x" + n, "y" + n
    leg = "legend" + n
    for j, vals in enumerate(p["series"]):
        fx = to_freq(p["grids"][j])
        m = min(len(fx), len(vals))
        if len(fx) != len(vals):
            print("length mismatch panel", i, "series", j, len(fx), len(vals), file=sys.stderr)
        col, dsh, _ = STYLE[j]
        fig.add_trace(go.Scatter(x=fx[:m], y=vals[:m], mode="lines", xaxis=xa, yaxis=ya,
                                 line=dict(color=col, width=1.5, dash=dsh, simplify=False),
                                 showlegend=False, hoverinfo="skip"))
    for j, name in enumerate(SERIES_NAMES):
        col, _, ldsh = STYLE[j]
        fig.add_trace(go.Scatter(x=[None], y=[None], mode="lines", xaxis=xa, yaxis=ya, name=name,
                                 line=dict(color=col, width=3, dash=ldsh), legend=leg, showlegend=True))

    layout["xaxis" + n] = dict(
        type="log", range=XR, domain=[0, 1], anchor=ya, automargin=False, showline=True,
        linecolor="#444444", linewidth=1, mirror=True, ticks="outside", ticklen=5, tickcolor="#444444",
        tickvals=[1e-4, 1e-3, 1e-2, 1e-1],
        ticktext=["10<sup>\u22124</sup>", "10<sup>\u22123</sup>", "10<sup>\u22122</sup>", "10<sup>\u22121</sup>"],
        tickfont=dict(family=FONT, size=18.5, color="black"), ticklabelstandoff=-5,
        minor=dict(ticks="outside", ticklen=3, tickcolor="#444444", tickvals=minor_x),
        showgrid=False, zeroline=False)
    layout["yaxis" + n] = dict(
        domain=[px_y(p["bot"]), px_y(p["top"])], range=p["yr"], anchor=xa, automargin=False,
        showline=True, linecolor="#444444", linewidth=1, ticks="outside", ticklen=5, tickcolor="#444444",
        tickvals=p["ticks"], ticktext=[str(t).replace("-", "\u2212") for t in p["ticks"]],
        tickfont=dict(family=FONT, size=18.5, color="black"), showgrid=False, zeroline=False)
    layout[leg] = dict(x=px_x(778), xanchor="right", y=px_y(p["leg_top"]), yanchor="top",
                       bgcolor="rgba(255,255,255,0.8)", bordercolor="#cccccc", borderwidth=1,
                       font=dict(family=FONT, size=12.5, color="#222222"), tracegroupgap=0,
                       itemwidth=30)

    # zero line
    shapes.append(dict(type="line", xref=xa + " domain", x0=0, x1=1, yref=ya, y0=0, y1=0,
                       line=dict(color="black", width=1, dash="1px,1.5px")))
    # period lines + labels
    for lab, days in zip(PERIOD_LABELS, PERIOD_DAYS):
        fq = 1.0 / days
        shapes.append(dict(type="line", xref=xa, x0=fq, x1=fq, yref=ya + " domain", y0=0, y1=1,
                           line=dict(color="black", width=1, dash="1px,1.5px")))
        if p["lab"] == "top":
            yy, ya_anchor = 1, "top"
        else:
            yy, ya_anchor = 0, "bottom"
        annotations.append(dict(text=lab, xref=xa, x=math.log10(fq), yref=ya + " domain", y=yy,
                                xanchor="right", yanchor=ya_anchor, textangle=-90, showarrow=False,
                                font=dict(family=FONT, size=15, color="black"), borderpad=0))
    # titles and labels
    annotations.append(dict(text=TITLES[i], xref="paper", yref="paper", x=px_x(428.5), y=px_y(p["title_y"]),
                            xanchor="center", yanchor="middle", showarrow=False,
                            font=dict(family=FONT, size=28, color="black")))
    annotations.append(dict(text="1e7", xref="paper", yref="paper", x=px_x(72), y=px_y(p["off_y"]),
                            xanchor="left", yanchor="middle", showarrow=False,
                            font=dict(family=FONT, size=14, color="black")))
    annotations.append(dict(text="(nW/kg)/(cycles/day)", xref="paper", yref="paper", x=px_x(p["ylab_x"]),
                            y=px_y((p["top"] + p["bot"]) / 2), xanchor="center", yanchor="middle",
                            textangle=-90, showarrow=False, font=dict(family=FONT, size=21, color="black")))
    annotations.append(dict(text="Frequency (cycles/day)", xref="paper", yref="paper", x=px_x(428.5),
                            y=px_y(p["xlab_y"]), xanchor="center", yanchor="middle", showarrow=False,
                            font=dict(family=FONT, size=21, color="black")))

fig.update_layout(width=W, height=H, margin=dict(l=ML, r=0, t=0, b=0, autoexpand=False),
                  paper_bgcolor="white", plot_bgcolor="white",
                  font=dict(family=FONT, color="black"),
                  annotations=annotations, shapes=shapes, **layout)

fig.write_html("out.html", config={"displayModeBar": False},
               post_script="document.body.style.margin='0px';document.body.style.padding='0px';"
                           "document.body.style.overflow='hidden';")
